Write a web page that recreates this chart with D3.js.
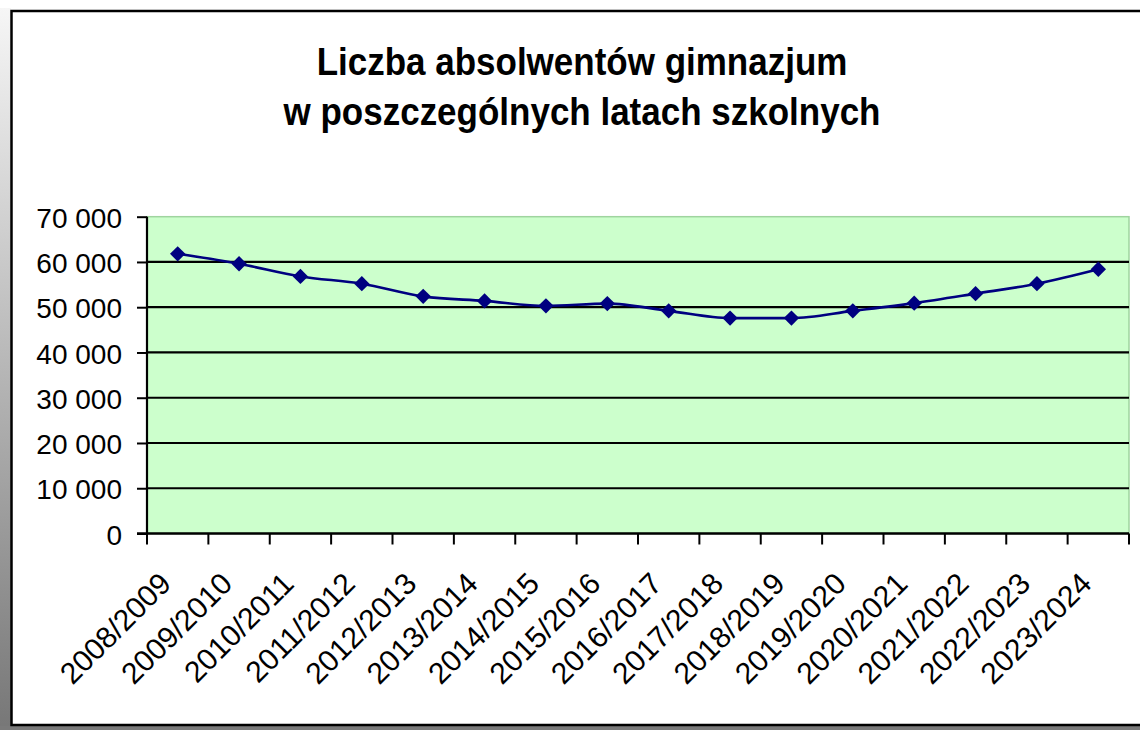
<!DOCTYPE html>
<html>
<head>
<meta charset="utf-8">
<script src="https://cdn.jsdelivr.net/npm/d3@7"></script>
<style>
    html, body { margin: 0; padding: 0; background: #fff; }
    svg { display: block; font-family: "Liberation Sans", Arial, sans-serif; }
</style>
</head>
<body>
<div id="chart"></div>
<script>
// School years and number of graduates
const years = [
    '2008/2009', '2009/2010', '2010/2011', '2011/2012', '2012/2013', '2013/2014',
    '2014/2015', '2015/2016', '2016/2017', '2017/2018', '2018/2019', '2019/2020',
    '2020/2021', '2021/2022', '2022/2023', '2023/2024'
];
const graduates = [
    61800, 59600, 56800, 55200, 52400, 51400,
    50300, 50800, 49200, 47600, 47600, 49200,
    50900, 53000, 55200, 58400
];
const yTicks = [0, 10000, 20000, 30000, 40000, 50000, 60000, 70000];
const titleLines = ['Liczba absolwentów gimnazjum', 'w poszczególnych latach szkolnych'];

const width = 1140;
const height = 730;
const plot = { left: 147, right: 1129, top: 216.7, bottom: 533.5 };

const svg = d3.select('#chart')
    .append('svg')
    .attr('width', width)
    .attr('height', height);

// Grey shadow strips on the left and bottom edge
const defs = svg.append('defs');
const grad = defs.append('linearGradient')
    .attr('id', 'shadow')
    .attr('x1', 0).attr('y1', 0).attr('x2', 0).attr('y2', 1);
grad.append('stop').attr('offset', '0%').attr('stop-color', '#f6f6f6');
grad.append('stop').attr('offset', '100%').attr('stop-color', '#777');

svg.append('rect')
    .attr('x', 0).attr('y', 8)
    .attr('width', 11).attr('height', height - 8)
    .attr('fill', 'url(#shadow)');
svg.append('rect')
    .attr('x', 0).attr('y', 726)
    .attr('width', width).attr('height', 4)
    .attr('fill', '#7a7a7a');

// Outer frame (right edge falls outside the picture)
svg.append('rect')
    .attr('x', 11.5).attr('y', 11)
    .attr('width', width + 20).attr('height', 714)
    .attr('fill', '#fff')
    .attr('stroke', '#000')
    .attr('stroke-width', 2.5);

// Title, a little stretched vertically like the original
svg.append('g')
    .selectAll('text')
    .data(titleLines)
    .enter()
    .append('text')
    .attr('transform', function(d, i) { return `translate(582,${75 + i * 50}) scale(1,1.1)`; })
    .attr('text-anchor', 'middle')
    .attr('font-size', 35)
    .attr('font-weight', 'bold')
    .attr('fill', '#000')
    .text(function(d) { return d; });

const x = d3.scaleBand()
    .domain(years)
    .range([plot.left, plot.right])
    .padding(0);

const y = d3.scaleLinear()
    .domain([0, 70000])
    .range([plot.bottom, plot.top]);

// Plot area
svg.append('rect')
    .attr('x', plot.left)
    .attr('y', plot.top)
    .attr('width', plot.right - plot.left)
    .attr('height', plot.bottom - plot.top)
    .attr('fill', '#ccffcc')
    .attr('stroke', '#9fd49f')
    .attr('stroke-width', 1.5);

// Gridlines
svg.append('g')
    .selectAll('line')
    .data(yTicks.filter((t) => t > 0 && t < 70000))
    .enter()
    .append('line')
    .attr('x1', plot.left)
    .attr('x2', plot.right)
    .attr('y1', function(d) { return y(d); })
    .attr('y2', function(d) { return y(d); })
    .attr('stroke', '#000')
    .attr('stroke-width', 2.2);

// Y axis
const yAxis = svg.append('g')
    .attr('transform', `translate(${plot.left},0)`)
    .call(d3.axisLeft(y)
        .tickValues(yTicks)
        .tickSize(10)
        .tickPadding(15)
        .tickFormat((d) => d3.format(',')(d).replace(/,/g, ' ')));
yAxis.select('.domain').attr('stroke', '#000').attr('stroke-width', 2.2)
    .attr('d', `M0,${plot.top}V${plot.bottom}`);
yAxis.selectAll('.tick line').attr('stroke', '#000').attr('stroke-width', 2);
yAxis.selectAll('.tick text')
    .attr('font-size', 28)
    .attr('fill', '#000')
    .attr('font-family', '"Liberation Sans", Arial, sans-serif')
    .attr('dy', '0.38em');

// X axis with ticks on category boundaries
const xAxis = svg.append('g')
    .attr('transform', `translate(0,${plot.bottom})`);
xAxis.append('line')
    .attr('x1', plot.left - 10)
    .attr('x2', plot.right)
    .attr('stroke', '#000')
    .attr('stroke-width', 2.5);
xAxis.selectAll('line.tick')
    .data(years.concat(['end']))
    .enter()
    .append('line')
    .attr('class', 'tick')
    .attr('x1', function(d, i) { return i < years.length ? x(d) : plot.right; })
    .attr('x2', function(d, i) { return i < years.length ? x(d) : plot.right; })
    .attr('y1', 0)
    .attr('y2', 11)
    .attr('stroke', '#000')
    .attr('stroke-width', 2);
xAxis.selectAll('text')
    .data(years)
    .enter()
    .append('text')
    .attr('transform', function(d) {
        return `translate(${x(d) + x.bandwidth() / 2 - 5},52) rotate(-45)`;
    })
    .attr('text-anchor', 'end')
    .attr('font-size', 30)
    .attr('fill', '#000')
    .text(function(d) { return d; });

// Series line and markers
const line = d3.line()
    .x(function(d, i) { return x(years[i]) + x.bandwidth() / 2; })
    .y(function(d) { return y(d); })
    .curve(d3.curveMonotoneX);

svg.append('path')
    .datum(graduates)
    .attr('d', line)
    .attr('fill', 'none')
    .attr('stroke', '#000080')
    .attr('stroke-width', 2.6);

svg.append('g')
    .selectAll('path')
    .data(graduates)
    .enter()
    .append('path')
    .attr('d', d3.symbol(d3.symbolSquare, 118))
    .attr('transform', function(d, i) {
        return `translate(${x(years[i]) + x.bandwidth() / 2},${y(d)}) rotate(45)`;
    })
    .attr('fill', '#000080');
</script>
</body>
</html>
